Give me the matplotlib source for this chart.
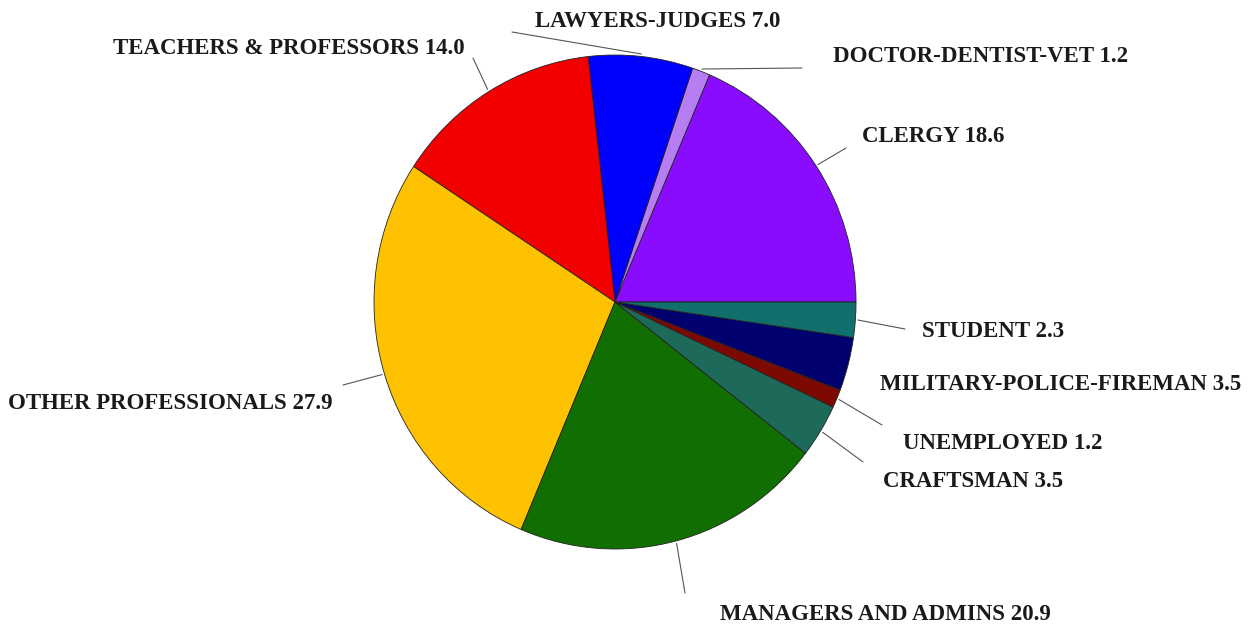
import numpy as np
import matplotlib.pyplot as plt

labels = ['CLERGY', 'DOCTOR-DENTIST-VET', 'LAWYERS-JUDGES', 'TEACHERS & PROFESSORS',
          'OTHER PROFESSIONALS', 'MANAGERS AND ADMINS', 'CRAFTSMAN', 'UNEMPLOYED',
          'MILITARY-POLICE-FIREMAN', 'STUDENT']
values = [18.6, 1.2, 7.0, 14.0, 27.9, 20.9, 3.5, 1.2, 3.5, 2.3]
colors = ['#8a0cff', '#b67ef0', '#0000ff', '#f20000', '#ffc200', '#116e00',
          '#1e6a5a', '#7c0a00', '#00006e', '#11706b']

# label layout in image pixels (left x, baseline y from top) and leader line start
label_pos = [(862, 142), (833, 62), (535, 27), (113, 54), (8, 409),
             (720, 620), (883, 487), (903, 449), (880, 390), (922, 337)]
line_start = [(846, 148), (802, 68), (512, 32), (473, 58), (343, 385),
              (685, 593), (863, 462), (882, 425), None, (905, 329)]

W, H = 1251, 624
cx, cy = 615, 302      # pie centre in image pixels
rx, ry = 241, 247      # the reference pie is slightly taller than wide

fig = plt.figure(figsize=(W / 100, H / 100), dpi=100)
ax = fig.add_axes([0, 0, 1, 1])

wedges, _ = ax.pie(values, colors=colors, startangle=0, counterclock=True,
                   radius=1, center=(0, 0),
                   wedgeprops=dict(edgecolor='#222222', linewidth=0.6))
ax.set_aspect('auto')
ax.set_xlim(-cx / rx, (W - cx) / rx)
ax.set_ylim(-(H - cy) / ry, cy / ry)
ax.axis('off')

for w, lab, v, (tx, ty), ls in zip(wedges, labels, values, label_pos, line_start):
    ang = np.deg2rad((w.theta1 + w.theta2) / 2)
    fig.text(tx / W, 1 - ty / H, f'{lab} {v:.1f}', ha='left', va='baseline',
             fontsize=16.5, fontweight='bold', family='Liberation Serif',
             color='#1a1a1a')
    if ls is not None:
        ax.annotate('', xy=(1.01 * np.cos(ang), 1.01 * np.sin(ang)), xycoords='data',
                    xytext=(ls[0], H - ls[1]), textcoords='figure pixels',
                    arrowprops=dict(arrowstyle='-', color='#555555', lw=0.8,
                                    shrinkA=0, shrinkB=0))

fig.savefig('out.png', dpi=100)
